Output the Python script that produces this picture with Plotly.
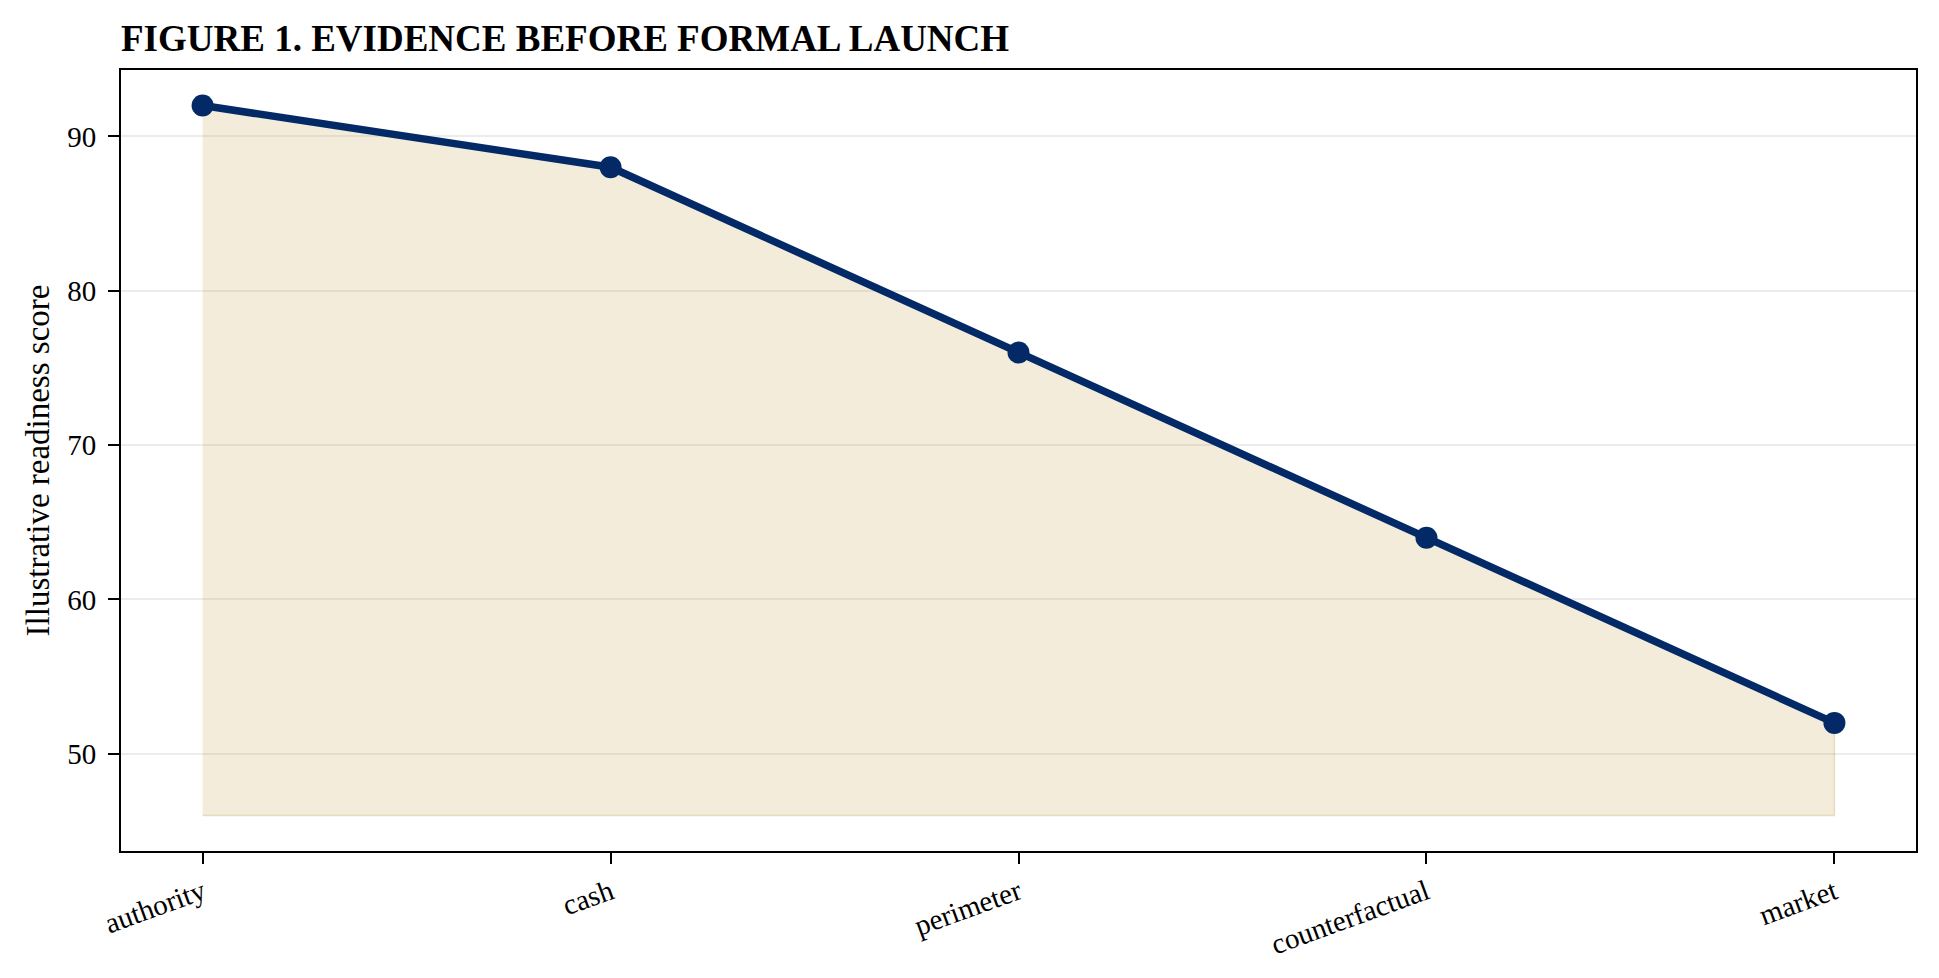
import plotly.graph_objects as go

categories = ["authority", "cash", "perimeter", "counterfactual", "market"]
scores = [92, 88, 76, 64, 52]
baseline = 46
y_ticks = [50, 60, 70, 80, 90]

TITLE = "FIGURE 1. EVIDENCE BEFORE FORMAL LAUNCH"
Y_TITLE = "Illustrative readiness score"

NAVY = "#032a66"
FONT = "Liberation Serif"

xs = list(range(len(categories)))

fig = go.Figure()
# shaded area polygon between baseline and scores
fig.add_trace(go.Scatter(
    x=xs + xs[::-1],
    y=scores + [baseline] * len(xs),
    fill="toself",
    fillcolor="rgba(195,160,75,0.2)",
    line=dict(color="rgba(195,160,75,0.3)", width=1.5),
    mode="lines",
    hoverinfo="skip",
    showlegend=False,
))
fig.add_trace(go.Scatter(
    x=xs,
    y=scores,
    mode="lines+markers",
    line=dict(color=NAVY, width=7.5),
    marker=dict(color=NAVY, size=22),
    showlegend=False,
))

fig.update_layout(
    width=1939,
    height=978,
    paper_bgcolor="white",
    plot_bgcolor="white",
    margin=dict(l=113, r=31, t=62, b=135),
    font=dict(family=FONT, color="black", size=29),
    title=dict(
        text="<b>" + TITLE + "</b>",
        font=dict(family=FONT, size=37, color="black"),
        x=113 / 1939, xref="container", xanchor="left",
        y=1 - 30 / 978, yref="container", yanchor="middle",
    ),
)
fig.update_xaxes(
    range=[-0.2, len(categories) - 1 + 0.2],
    tickvals=xs,
    ticktext=categories,
    tickangle=-20,
    ticks="outside",
    ticklen=11,
    tickwidth=2,
    tickcolor="black",
    ticklabelstandoff=0,
    showgrid=False,
    zeroline=False,
    showline=True,
    linecolor="black",
    linewidth=2,
    mirror=True,
    tickfont=dict(family=FONT, size=29),
)
fig.update_yaxes(
    range=[43.7, 94.3],
    tickvals=y_ticks,
    ticks="outside",
    ticklen=11,
    tickwidth=2,
    tickcolor="black",
    ticklabelstandoff=6,
    showgrid=True,
    gridcolor="#ececec",
    gridwidth=1.5,
    zeroline=False,
    showline=True,
    linecolor="black",
    linewidth=2,
    mirror=True,
    tickfont=dict(family=FONT, size=29),
    title=dict(text=Y_TITLE, font=dict(family=FONT, size=33), standoff=8),
)

fig.write_html("out.html")
